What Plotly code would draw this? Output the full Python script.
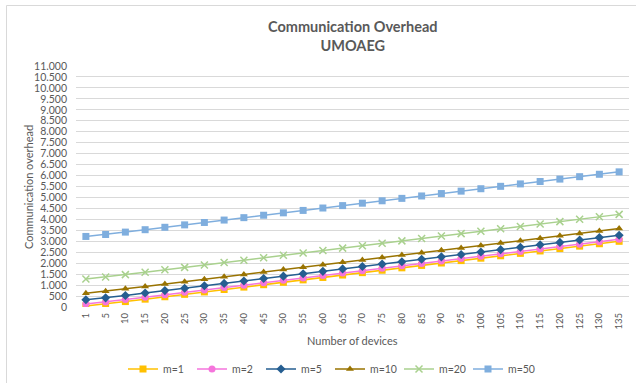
import plotly.graph_objects as go

# Number of devices (category axis)
devices = [1, 5, 10, 15, 20, 25, 30, 35, 40, 45, 50, 55, 60, 65, 70,
           75, 80, 85, 90, 95, 100, 105, 110, 115, 120, 125, 130, 135]

m1 = [50, 138, 248, 358, 468, 578, 688, 798, 908, 1018, 1128, 1238, 1348, 1458,
      1568, 1678, 1788, 1898, 2008, 2118, 2228, 2338, 2448, 2558, 2668, 2778, 2888, 2998]
m2 = [140, 228, 338, 448, 558, 668, 778, 888, 998, 1108, 1218, 1328, 1438, 1548,
      1658, 1768, 1878, 1988, 2098, 2208, 2318, 2428, 2538, 2648, 2758, 2868, 2978, 3088]
m5 = [330, 418, 528, 638, 748, 858, 968, 1078, 1188, 1298, 1408, 1518, 1628, 1738,
      1848, 1958, 2068, 2178, 2288, 2398, 2508, 2618, 2728, 2838, 2948, 3058, 3168, 3278]
m10 = [630, 718, 828, 938, 1048, 1158, 1268, 1378, 1488, 1598, 1708, 1818, 1928, 2038,
       2148, 2258, 2368, 2478, 2588, 2698, 2808, 2918, 3028, 3138, 3248, 3358, 3468, 3578]
m20 = [1280, 1368, 1478, 1588, 1698, 1808, 1918, 2028, 2138, 2248, 2358, 2468, 2578, 2688,
       2798, 2908, 3018, 3128, 3238, 3348, 3458, 3568, 3678, 3788, 3898, 4008, 4118, 4228]
m50 = [3220, 3308, 3418, 3528, 3638, 3748, 3858, 3968, 4078, 4188, 4298, 4408, 4518, 4628,
       4738, 4848, 4958, 5068, 5178, 5288, 5398, 5508, 5618, 5728, 5838, 5948, 6058, 6168]

series_names = ["m=1", "m=2", "m=5", "m=10", "m=20", "m=50"]
series_values = [m1, m2, m5, m10, m20, m50]
colors = ["#FFC000", "#F575DC", "#255E91", "#997300", "#A9D18E", "#7FAEDE"]
symbols = ["square", "circle", "diamond", "triangle-up", "x-thin", "square"]

FONT = "Lato, 'Open Sans', sans-serif"
GRAY = "#595959"

x_labels = [str(d) for d in devices]

fig = go.Figure()
for name, vals, col, sym in zip(series_names, series_values, colors, symbols):
    marker = dict(symbol=sym, size=7, color=col)
    if sym == "x-thin":
        marker.update(size=7, line=dict(color=col, width=1.5))
    fig.add_trace(go.Scatter(
        x=x_labels, y=vals, name=name, mode="lines+markers",
        line=dict(color=col, width=1.5), marker=marker,
    ))

fig.update_layout(
    width=636, height=383,
    margin=dict(l=76, r=7, t=66, b=76, autoexpand=False),
    paper_bgcolor="white", plot_bgcolor="white",
    separators=",.",
    font=dict(family=FONT, color=GRAY, size=10),
    showlegend=True,
    legend=dict(orientation="h", x=(330 - 76) / 553, xanchor="center", y=-0.257, yanchor="middle",
                font=dict(size=10.5, color=GRAY), itemwidth=30, tracegroupgap=0,
                entrywidth=24, entrywidthmode="pixels"),
    xaxis=dict(type="category", range=[-0.5, len(devices) - 0.5], automargin=False,
               tickangle=-90, tickfont=dict(size=9.5, color=GRAY), ticklabelstandoff=3,
               showgrid=False, showline=False, ticks="", zeroline=False),
    yaxis=dict(range=[0, 11000], dtick=500, tickformat=",d", automargin=False,
               tickfont=dict(size=10.5, color=GRAY), ticklabelstandoff=8,
               gridcolor="#D9D9D9", gridwidth=1, zeroline=False,
               showline=False, ticks="", ticklen=0),
    annotations=[
        dict(text="<b>Communication Overhead</b><br><b>UMOAEG</b>",
             xref="paper", yref="paper", x=0.5, y=(307 - 36) / 241,
             xanchor="center", yanchor="middle", showarrow=False,
             font=dict(size=14.5, color=GRAY, family=FONT)),
        dict(text="Number of devices", xref="paper", yref="paper",
             x=(352 - 76) / 553, y=(307 - 340) / 241, xanchor="center", yanchor="middle",
             showarrow=False, font=dict(size=11, color=GRAY, family=FONT)),
        dict(text="Communication overhead", xref="paper", yref="paper",
             x=(28 - 76) / 553, y=(307 - 187) / 241, xanchor="center", yanchor="middle",
             textangle=-90, showarrow=False, font=dict(size=11, color=GRAY, family=FONT)),
    ],
    shapes=[
        dict(type="line", xref="paper", yref="paper",
             x0=(6.5 - 76) / 553, x1=1.1, y0=(307 - 5.5) / 241, y1=(307 - 5.5) / 241,
             line=dict(color="#D9D9D9", width=1)),
        dict(type="line", xref="paper", yref="paper",
             x0=(6.5 - 76) / 553, x1=(6.5 - 76) / 553, y0=(307 - 5.5) / 241, y1=-0.5,
             line=dict(color="#D9D9D9", width=1)),
    ],
)

fig.write_html("out.html")
